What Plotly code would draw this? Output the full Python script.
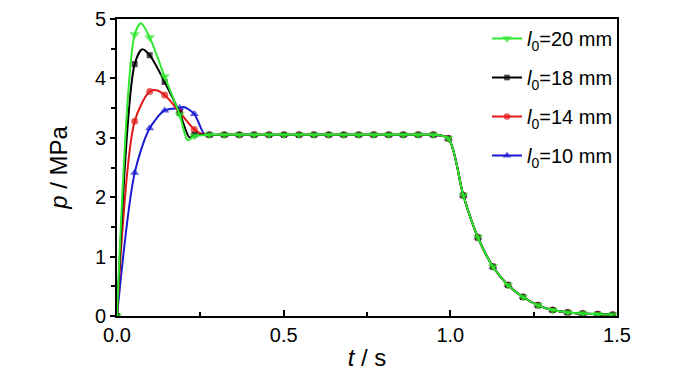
import plotly.graph_objects as go

# marker sample times (s)
t = [0.0, 0.053, 0.098, 0.143, 0.188, 0.232, 0.277, 0.322, 0.367, 0.411, 0.456, 0.501,
     0.546, 0.591, 0.635, 0.680, 0.725, 0.770, 0.815, 0.859, 0.904, 0.949, 0.994,
     1.039, 1.083, 1.128, 1.173, 1.218, 1.263, 1.307, 1.352, 1.397, 1.442, 1.487]

plateau = [3.05] * 16
tail = [2.99, 2.03, 1.32, 0.83, 0.52, 0.32, 0.18, 0.10, 0.06, 0.04, 0.03, 0.02]

p20 = [0.0, 4.74, 4.69, 4.03, 3.39, 3.03] + plateau + tail
p18 = [0.0, 4.24, 4.39, 3.94, 3.42, 3.05] + plateau + tail
p14 = [0.0, 3.28, 3.78, 3.72, 3.43, 3.14] + plateau + tail
p10 = [0.0, 2.41, 3.16, 3.46, 3.50, 3.40] + plateau + tail

# extra curve points between markers (peaks / dips)
t20_extra, p20_extra = [0.072, 0.212], [4.93, 2.96]
t18_extra, p18_extra = [0.076, 0.218], [4.49, 3.00]
t14_extra, p14_extra = [0.118, 0.258], [3.80, 3.06]
t10_extra, p10_extra = [0.200, 0.262], [3.52, 3.06]

names = ["<i>l</i><sub>0</sub>=10 mm", "<i>l</i><sub>0</sub>=14 mm",
         "<i>l</i><sub>0</sub>=18 mm", "<i>l</i><sub>0</sub>=20 mm"]
series = [(p10, t10_extra, p10_extra), (p14, t14_extra, p14_extra),
          (p18, t18_extra, p18_extra), (p20, t20_extra, p20_extra)]
colors = ["#1a1ad0", "#e01818", "#000000", "#2ee82e"]
symbols = ["triangle-up", "circle", "square", "triangle-down"]
msizes = [8, 7, 6, 9]
ranks = [4, 3, 2, 1]

fig = go.Figure()
for nm, (y, te, pe), c, s, ms, rk in zip(names, series, colors, symbols, msizes, ranks):
    pts = [(a, b, ms) for a, b in zip(t, y)] + [(a, b, 0) for a, b in zip(te, pe)]
    pts.sort(key=lambda q: q[0])
    fig.add_trace(go.Scatter(
        x=[q[0] for q in pts], y=[q[1] for q in pts], name=nm, mode="lines+markers",
        line=dict(color=c, width=2, shape="spline", smoothing=0.8),
        marker=dict(color=c, symbol=s, size=[q[2] for q in pts], line=dict(width=0)),
        legendgroup=str(rk), legendrank=rk,
    ))

font = "Liberation Sans, Arial, sans-serif"
fig.update_layout(
    width=700, height=375,
    margin=dict(l=109, r=91, t=11, b=67, autoexpand=False),
    paper_bgcolor="white", plot_bgcolor="white",
    font=dict(family=font, size=20, color="black"),
    showlegend=True,
    legend=dict(x=0.74, y=1.0, xanchor="left", yanchor="top",
                traceorder="grouped", tracegroupgap=10,
                bgcolor="rgba(0,0,0,0)", font=dict(size=20, family=font),
                itemsizing="trace"),
    xaxis=dict(range=[0, 1.5], dtick=0.5, tickformat=".1f", automargin=False,
               ticklabeloverflow="allow",
               showline=True, linecolor="black", linewidth=2, mirror=True,
               ticks="inside", ticklen=6, tickwidth=2, tickcolor="black",
               minor=dict(dtick=0.25, ticks="inside", ticklen=4, tickwidth=2, tickcolor="black"),
               showgrid=False, zeroline=False,
               title=dict(text="<i>t</i> / s", standoff=4),
               tickfont=dict(size=20)),
    yaxis=dict(range=[0, 5], dtick=1, automargin=False,
               ticklabeloverflow="allow",
               showline=True, linecolor="black", linewidth=2, mirror=True,
               ticks="outside", ticklen=5, tickwidth=2, tickcolor="black",
               minor=dict(dtick=0.5, ticks="outside", ticklen=4, tickwidth=2, tickcolor="black"),
               showgrid=False, zeroline=False,
               title=dict(text="<i>p</i> / MPa", standoff=20),
               tickfont=dict(size=20)),
)

fig.write_html("out.html")
